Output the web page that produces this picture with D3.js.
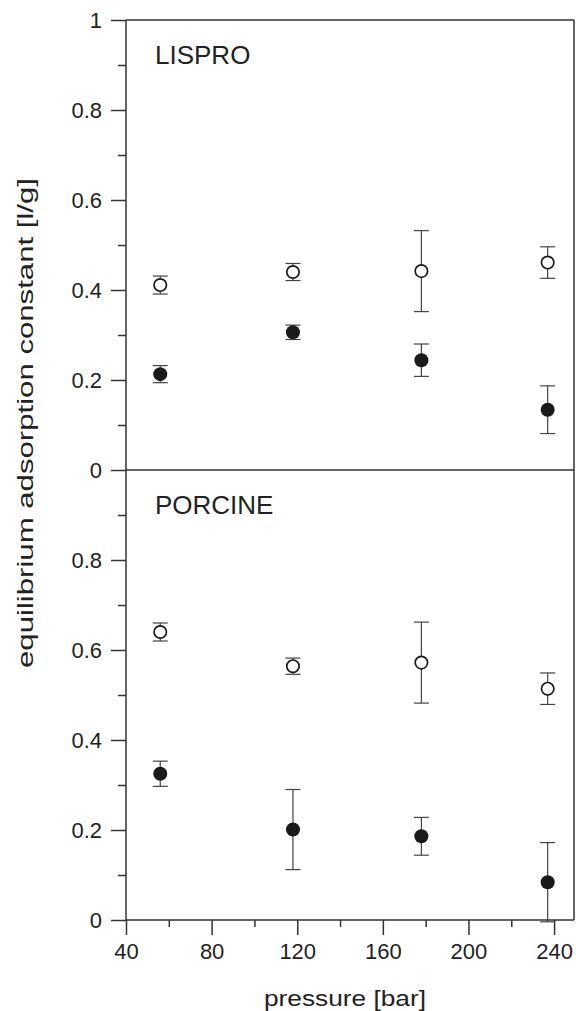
<!DOCTYPE html>
<html>
<head>
<meta charset="utf-8">
<script src="https://cdn.jsdelivr.net/npm/d3@7"></script>
<style>
  body { margin: 0; background: #fff; }
  svg { display: block; }
  text { font-family: "Liberation Sans", Arial, sans-serif; fill: #222; }
  .axis path, .axis line { stroke: #333; stroke-width: 1.5; }
</style>
</head>
<body>
<div id="chart"></div>
<script>
// pressure values (bar)
var pressures = [56, 118, 178, 237];

// LISPRO panel
var lisproOpen = [0.411, 0.440, 0.442, 0.461];
var lisproOpenErr = [0.020, 0.019, 0.090, 0.035];
var lisproFilled = [0.213, 0.306, 0.244, 0.134];
var lisproFilledErr = [0.019, 0.016, 0.036, 0.053];

// PORCINE panel
var porcineOpen = [0.640, 0.564, 0.572, 0.514];
var porcineOpenErr = [0.020, 0.018, 0.090, 0.035];
var porcineFilled = [0.325, 0.201, 0.186, 0.084];
var porcineFilledErr = [0.028, 0.089, 0.042, 0.088];

var xTicks = [40, 80, 120, 160, 200, 240];
var xMinor = [60, 100, 140, 180, 220];
var yTicks = [0, 0.2, 0.4, 0.6, 0.8, 1];
var yMinor = [0.1, 0.3, 0.5, 0.7, 0.9];

var W = 576, H = 1011;
// plot box edges (topY, not "top" - that one is window.top)
var leftX = 126, rightX = 574, topY = 20, midY = 470, bottomY = 920;

var svg = d3.select("#chart").append("svg")
  .attr("width", W).attr("height", H);

var x = d3.scaleLinear().domain([40, 249.3]).range([leftX, rightX]);
var yTop = d3.scaleLinear().domain([0, 1]).range([midY, topY]);
var yBot = d3.scaleLinear().domain([0, 1]).range([bottomY, midY]);

function fmt(d) { return d3.format("~g")(d); }

//draw one panel: axis, name, markers
function panel(y, labels, name, openV, openE, fillV, fillE) {
  var yAxis = d3.axisLeft(y).tickValues(labels).tickFormat(fmt)
    .tickSize(15).tickSizeOuter(0).tickPadding(9);
  var g = svg.append("g").attr("class", "axis")
    .attr("transform", "translate(" + leftX + ",0)")
    .call(yAxis);
  g.select(".domain").remove();
  g.selectAll("text").style("font-size", "22px");

  var mg = svg.append("g").attr("class", "axis")
    .attr("transform", "translate(" + leftX + ",0)")
    .call(d3.axisLeft(y).tickValues(yMinor).tickFormat("").tickSize(8).tickSizeOuter(0));
  mg.select(".domain").remove();

  var r = y.range();
  svg.append("text")
    .attr("x", 155).attr("y", r[1] + 44)
    .style("font-size", "26px")
    .text(name);

  var data = pressures.map(function(p, i) {
    return { p: p, o: openV[i], oe: openE[i], f: fillV[i], fe: fillE[i] };
  });

  // error bars
  [["o", "oe"], ["f", "fe"]].forEach(function(k) {
    var eg = svg.append("g").attr("stroke", "#444").attr("stroke-width", 1.2);
    data.forEach(function(d) {
      var cx = x(d.p), y1 = y(d[k[0]] + d[k[1]]), y0 = y(d[k[0]] - d[k[1]]);
      eg.append("line").attr("x1", cx).attr("x2", cx).attr("y1", y1).attr("y2", y0);
      eg.append("line").attr("x1", cx - 7.5).attr("x2", cx + 7.5).attr("y1", y1).attr("y2", y1);
      eg.append("line").attr("x1", cx - 7.5).attr("x2", cx + 7.5).attr("y1", y0).attr("y2", y0);
    });
  });

  svg.append("g").selectAll("circle").data(data).enter().append("circle")
    .attr("cx", function(d) { return x(d.p); })
    .attr("cy", function(d) { return y(d.o); })
    .attr("r", 6.2)
    .attr("fill", "#fff").attr("stroke", "#1a1a1a").attr("stroke-width", 1.7);

  svg.append("g").selectAll("circle").data(data).enter().append("circle")
    .attr("cx", function(d) { return x(d.p); })
    .attr("cy", function(d) { return y(d.f); })
    .attr("r", 7)
    .attr("fill", "#1a1a1a");
}

panel(yTop, yTicks, "LISPRO", lisproOpen, lisproOpenErr, lisproFilled, lisproFilledErr);
panel(yBot, yTicks.slice(0, 5), "PORCINE", porcineOpen, porcineOpenErr, porcineFilled, porcineFilledErr);

// x axis
var xa = svg.append("g").attr("class", "axis")
  .attr("transform", "translate(0," + bottomY + ")")
  .call(d3.axisBottom(x).tickValues(xTicks).tickSize(15).tickSizeOuter(0).tickPadding(8));
xa.select(".domain").remove();
xa.selectAll("text").style("font-size", "22px");
var xm = svg.append("g").attr("class", "axis")
  .attr("transform", "translate(0," + bottomY + ")")
  .call(d3.axisBottom(x).tickValues(xMinor).tickFormat("").tickSize(7).tickSizeOuter(0));
xm.select(".domain").remove();

// frame lines
var frame = svg.append("g").attr("stroke", "#333").attr("stroke-width", 1.5).attr("fill", "none");
frame.append("line").attr("x1", leftX).attr("x2", leftX).attr("y1", topY).attr("y2", bottomY);
frame.append("line").attr("x1", rightX).attr("x2", rightX).attr("y1", topY).attr("y2", bottomY);
frame.append("line").attr("x1", leftX).attr("x2", rightX).attr("y1", topY).attr("y2", topY);
frame.append("line").attr("x1", leftX).attr("x2", rightX).attr("y1", midY).attr("y2", midY);
frame.append("line").attr("x1", leftX).attr("x2", rightX).attr("y1", bottomY).attr("y2", bottomY);

// axis titles
svg.append("text")
  .attr("x", 345).attr("y", 1006)
  .attr("text-anchor", "middle")
  .attr("textLength", 162).attr("lengthAdjust", "spacingAndGlyphs")
  .style("font-size", "22px")
  .text("pressure [bar]");

svg.append("text")
  .attr("transform", "translate(33,423) rotate(-90)")
  .attr("text-anchor", "middle")
  .attr("textLength", 490).attr("lengthAdjust", "spacingAndGlyphs")
  .style("font-size", "22px")
  .text("equilibrium adsorption constant [l/g]");
</script>
</body>
</html>
